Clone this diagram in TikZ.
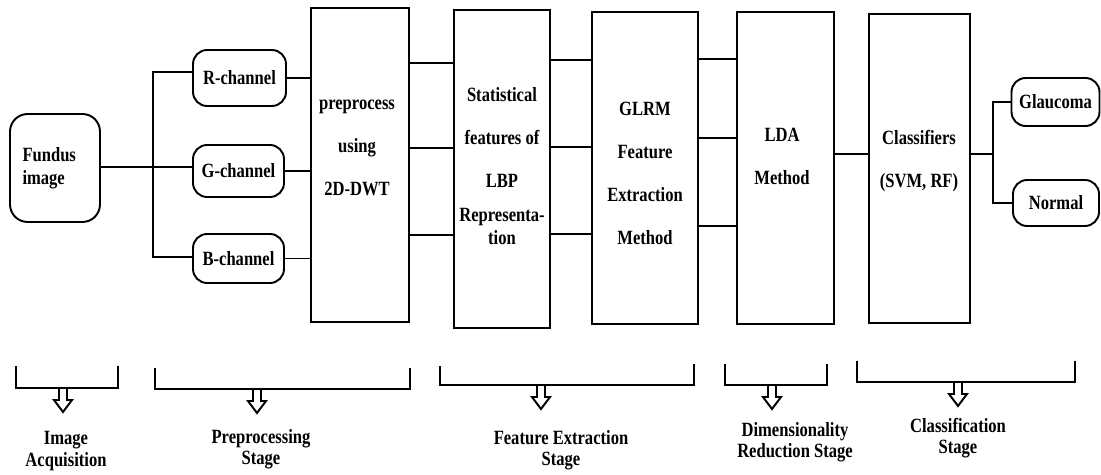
\documentclass[tikz,border=0pt]{standalone}
\usepackage{fontspec}
\setmainfont{Liberation Serif}[FakeStretch=0.82]

\tikzset{
  stagebox/.style={draw, rectangle, inner sep=0pt},
  chanbox/.style={draw, rounded corners=8pt, inner sep=0pt,
    font=\bfseries\fontsize{11.5}{13}\selectfont},
  boxtext/.style={align=center, inner sep=0pt,
    font=\bfseries\fontsize{11.5}{13}\selectfont},
  stagelabel/.style={align=center, inner sep=0pt,
    font=\bfseries\fontsize{11.5}{12}\selectfont},
  downarrow/.pic={
    \draw[fill=white] (-4,0) -- (-4,12) -- (-9,12) -- (0,24) -- (9,12) -- (4,12) -- (4,0) -- cycle;
  }
}

\begin{document}
\begin{tikzpicture}[x=0.02cm, y=-0.02cm, line width=1.1pt]
\useasboundingbox (0,0) rectangle (1101,475);

% input image and colour channels
\node[chanbox, rounded corners=10pt, text width=1.3cm, align=left,
  minimum width=1.8cm, minimum height=2.16cm] (fundus) at (55,168) {Fundus\\image};
\node[chanbox, minimum width=1.86cm, minimum height=1.12cm] (rch) at (239.5,78) {R-channel};
\node[chanbox, minimum width=1.82cm, minimum height=1.04cm] (gch) at (238.5,171) {G-channel};
\node[chanbox, minimum width=1.82cm, minimum height=0.98cm] (bch) at (238.5,258.5) {B-channel};

\coordinate (split) at (153,167);
\draw (fundus.east |- split) -- (gch.west |- split);
\draw (rch.west |- 0,72) -| (split) |- (bch.west |- 0,257);

% processing stages
\node[stagebox, minimum width=1.96cm, minimum height=6.28cm] (pre) at (360,165) {};
\node[boxtext] (pre-t) at (357,148) {preprocess\\[11.5pt]using\\[11.5pt]2D-DWT};
\node[stagebox, minimum width=1.92cm, minimum height=6.36cm] (stat) at (502,169) {};
\node[boxtext] (stat-t) at (502,166) {Statistical\\[11.5pt]features of\\[11.5pt]LBP\\[6pt]Representa-\\tion};
\node[stagebox, minimum width=2.12cm, minimum height=6.24cm] (glrm) at (645,168) {};
\node[boxtext] (glrm-t) at (645,173) {GLRM\\[11.5pt]Feature\\[11.5pt]Extraction\\[11.5pt]Method};
\node[stagebox, minimum width=1.94cm, minimum height=6.24cm] (lda) at (785.5,168) {};
\node[boxtext] (lda-t) at (782,156) {LDA\\[11.5pt]Method};
\node[stagebox, minimum width=2.02cm, minimum height=6.18cm] (cls) at (919.5,168.5) {};
\node[boxtext] (cls-t) at (919,161) {Classifiers\\[11.5pt](SVM, RF)};

\draw (rch.east) -- (pre.west |- rch.east);
\draw (gch.east) -- (pre.west |- gch.east);
\draw (bch.east) -- (pre.west |- bch.east);
\foreach \y in {63,148,235} \draw (pre.east |- 0,\y) -- (stat.west |- 0,\y);
\foreach \y in {60,147,234} \draw (stat.east |- 0,\y) -- (glrm.west |- 0,\y);
\foreach \y in {59,138,226} \draw (glrm.east |- 0,\y) -- (lda.west |- 0,\y);
\draw (lda.east |- 0,154) -- (cls.west |- 0,154);

% outputs
\node[chanbox, minimum width=1.76cm, minimum height=0.96cm] (glau) at (1055.5,102) {Glaucoma};
\node[chanbox, minimum width=1.72cm, minimum height=0.92cm] (norm) at (1056,203) {Normal};
\coordinate (join) at (993,154);
\draw (cls.east |- join) -- (join);
\draw (glau.west) -| (join) |- (norm.west);

% stage brackets
\draw (16,366) |- (118,388) -- (118,366);
\pic at (63,388) {downarrow};
\draw (155,368) |- (410,389) -- (410,368);
\pic at (257,389) {downarrow};
\draw (440,366) |- (694,385) -- (694,364);
\pic at (541,385) {downarrow};
\draw (725,364) |- (827,385) -- (827,364);
\pic at (772,385) {downarrow};
\draw (857,361) |- (1075,382) -- (1075,361);
\pic at (958,382) {downarrow};

\node[stagelabel] (acq) at (66,451) {Image\\Acquisition};
\node[stagelabel] (prep) at (261,449) {Preprocessing\\Stage};
\node[stagelabel] (feat) at (561,450) {Feature Extraction\\Stage};
\node[stagelabel] (dimr) at (795,442) {Dimensionality\\Reduction Stage};
\node[stagelabel] (clas) at (958,438) {Classification\\Stage};
\end{tikzpicture}
\end{document}
